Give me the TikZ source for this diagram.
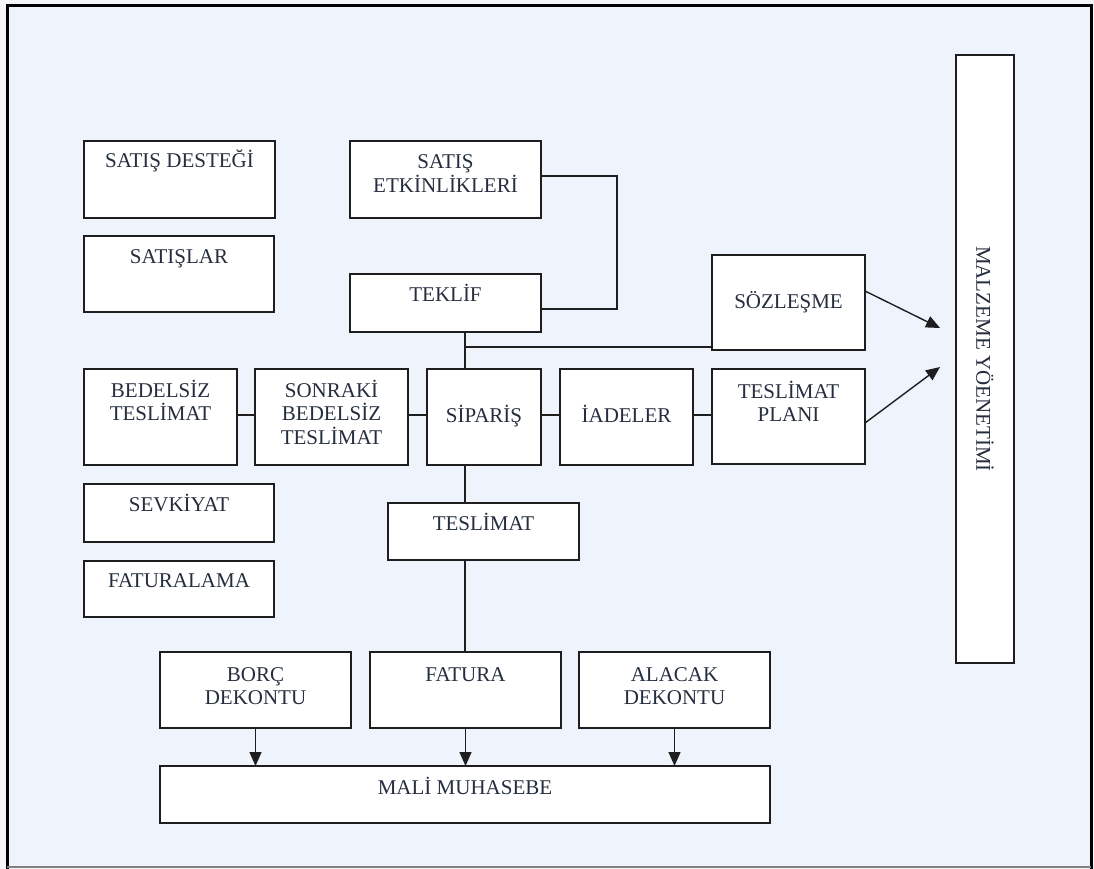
\documentclass[tikz,border=0pt]{standalone}
\usepackage{fontspec}
\setmainfont{Liberation Serif}
\usetikzlibrary{arrows.meta}

\definecolor{pagebg}{RGB}{244,245,249}
\definecolor{panelbg}{RGB}{239,243,251}
\definecolor{ink}{RGB}{36,46,62}
\definecolor{edge}{RGB}{30,30,30}

\tikzset{
  box/.style={draw=edge, line width=1.5pt, fill=white, inner sep=0pt, outer sep=0pt,
              anchor=north west, text=ink, font=\fontsize{21}{23.5}\selectfont},
  link/.style={draw=edge, line width=1.4pt},
  arrowlink/.style={link, -{Triangle[length=14pt,width=12pt]}},
  sidelabel/.style={text=ink, font=\fontsize{21}{23.5}\selectfont, inner sep=0pt},
}

% box with top-aligned, centred text: name, left, top, width, height, first baseline drop, text
\newcommand\tbox[7]{%
  \node[box] (#1) at (#2,#3)
    {\parbox[c][#5pt][t]{#4pt}{\centering\rule{0pt}{#6pt}#7\par}};%
}

\begin{document}
\begin{tikzpicture}[x=1pt,y=-1pt]
  \useasboundingbox (0,0) rectangle (1094,869);

  % page and framed panel
  \fill[pagebg] (0,0) rectangle (1094,869);
  \fill[panelbg] (7,6) rectangle (1091,867);
  \draw[black, line width=3pt] (7,869) -- (7,6) -- (1091,6) -- (1091,869);
  \draw[gray, line width=1.5pt] (7,867) -- (1091,867);

  % left column
  \tbox{satdes}{84}{141}{191}{77}{27}{SATIŞ DESTEĞİ}
  \tbox{satis}{84}{236}{190}{76}{27}{SATIŞLAR}
  \tbox{sevk}{84}{484}{190}{58}{27}{SEVKİYAT}
  \tbox{fatlama}{84}{561}{190}{56}{26}{FATURALAMA}

  % sales flow
  \tbox{etk}{350}{141}{191}{77}{28}{SATIŞ\\ETKİNLİKLERİ}
  \tbox{teklif}{350}{274}{191}{58}{27}{TEKLİF}
  \tbox{soz}{712}{255}{153}{95}{53}{SÖZLEŞME}
  \tbox{bedel}{84}{369}{153}{96}{28}{BEDELSİZ\\TESLİMAT}
  \tbox{sonraki}{255}{369}{153}{96}{28}{SONRAKİ\\BEDELSİZ\\TESLİMAT}
  \tbox{siparis}{427}{369}{114}{96}{53}{SİPARİŞ}
  \tbox{iade}{560}{369}{133}{96}{53}{İADELER}
  \tbox{plan}{712}{369}{153}{95}{29}{TESLİMAT\\PLANI}
  \tbox{tesl}{388}{503}{191}{57}{27}{TESLİMAT}

  % billing
  \tbox{borc}{160}{652}{191}{76}{29}{BORÇ\\DEKONTU}
  \tbox{fatura}{370}{652}{191}{76}{29}{FATURA}
  \tbox{alacak}{579}{652}{191}{76}{29}{ALACAK\\DEKONTU}
  \tbox{mali}{160}{766}{610}{57}{28}{MALİ MUHASEBE}

  % materials management column
  \node[box, minimum width=58pt, minimum height=608pt] (malz) at (956,55) {};
  \node[sidelabel, rotate=-90] (malzlabel) at (malz.center) {MALZEME YÖENETİMİ};

  % routing points
  \coordinate (etkR) at (617,176);
  \coordinate (tekR) at (617,309);
  \coordinate (hub) at (465,347);
  \coordinate (row) at (0,415);
  \coordinate (sozOut) at (0,291);
  \coordinate (planOut) at (0,423);
  \coordinate (mzA) at (940,328);
  \coordinate (mzB) at (940,367);

  % connectors
  \draw[link] (etk.east |- etkR) -- (etkR) -- (tekR) -- (teklif.east |- tekR);
  \draw[link] (teklif.south -| hub) -- (hub) -- (siparis.north -| hub);
  \draw[link] (hub) -- (soz.west |- hub);
  \draw[link] (bedel.east |- row) -- (sonraki.west |- row);
  \draw[link] (sonraki.east |- row) -- (siparis.west |- row);
  \draw[link] (siparis.east |- row) -- (iade.west |- row);
  \draw[link] (iade.east |- row) -- (plan.west |- row);
  \draw[link] (siparis.south -| hub) -- (tesl.north -| hub);
  \draw[link] (tesl.south -| hub) -- (fatura.north -| hub);

  \draw[arrowlink] (soz.east |- sozOut) -- (mzA);
  \draw[arrowlink] (plan.east |- planOut) -- (mzB);

  \draw[arrowlink] (borc.south) -- (mali.north -| borc.south);
  \draw[arrowlink] (fatura.south) -- (mali.north -| fatura.south);
  \draw[arrowlink] (alacak.south) -- (mali.north -| alacak.south);
\end{tikzpicture}
\end{document}
